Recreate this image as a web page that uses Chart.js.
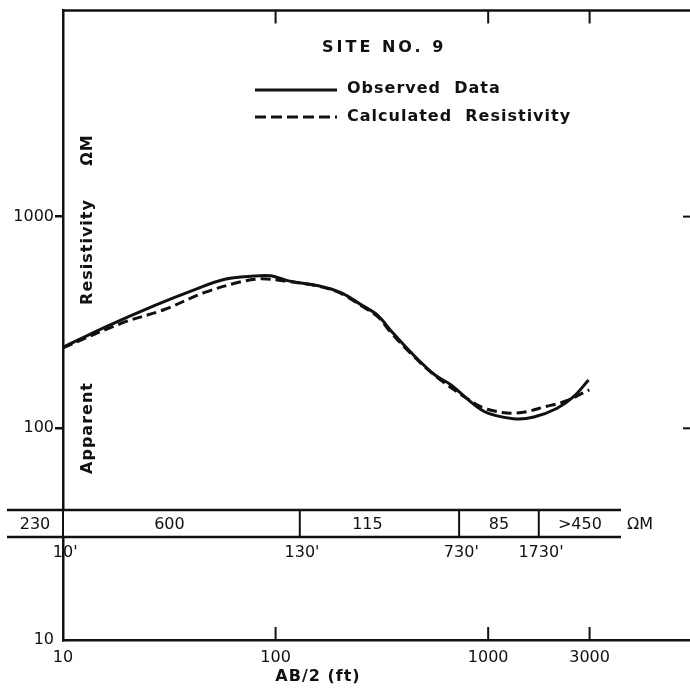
<!DOCTYPE html>
<html>
<head>
<meta charset="utf-8">
<script src="https://cdn.jsdelivr.net/npm/chart.js@4"></script>
<style>
  body { margin: 0; background: #fff; }
  #wrap { width: 690px; height: 688px; }
</style>
</head>
<body>
<div id="wrap"><canvas id="chart" width="690" height="688"></canvas></div>
<script>
// AB/2 spacing (ft) and apparent resistivity (ohm-m)
const observedAB = [10, 15.7, 26.9, 41.4, 57.1, 78.9, 95, 115, 159, 203, 252, 303, 348, 432, 560, 664, 958, 1322, 1641, 2100, 2523, 2966];
const observedRho = [241, 300, 380, 451, 505, 524, 525, 497, 471, 437, 384, 341, 290, 229, 179, 161, 120, 111, 113, 124, 141, 169];

const calculatedAB = [10, 18.9, 30, 46, 68.6, 85, 110, 159, 203, 252, 303, 348, 432, 560, 798, 990, 1367, 1888, 2340, 2990];
const calculatedRho = [240, 314, 364, 437, 492, 508, 497, 469, 434, 380, 336, 284, 226, 178, 138, 123, 118, 127, 135, 152];

const xTicks = [10, 100, 1000, 3000];
const yTicks = [10, 100, 1000];

// layered earth model shown under the curve
const layerDepths = [10, 130, 730, 1730];
const layerRes = ['230', '600', '115', '85', '>450'];

const FONT = "'DejaVu Sans', sans-serif";
const INK = '#111';

function toPoints(xs, ys) {
  return xs.map((v, i) => ({ x: v, y: ys[i] }));
}

const sheetPlugin = {
  id: 'sheet',
  afterDraw(chart) {
    const ctx = chart.ctx;
    const xs = chart.scales.x;
    const ys = chart.scales.y;
    const a = chart.chartArea;
    ctx.save();
    ctx.strokeStyle = INK;
    ctx.fillStyle = INK;
    ctx.lineWidth = 2.5;
    ctx.lineCap = 'butt';

    // top frame line
    ctx.beginPath();
    ctx.moveTo(a.left - 1, a.top);
    ctx.lineTo(a.right, a.top);
    ctx.stroke();

    // inward ticks on top and bottom
    ctx.lineWidth = 2;
    [100, 1000, 3000].forEach(v => {
      const px = xs.getPixelForValue(v);
      ctx.beginPath();
      ctx.moveTo(px, a.top);
      ctx.lineTo(px, a.top + 13);
      ctx.moveTo(px, a.bottom);
      ctx.lineTo(px, a.bottom - 13);
      ctx.stroke();
    });
    // ticks on the right edge
    [100, 1000].forEach(v => {
      const py = ys.getPixelForValue(v);
      ctx.beginPath();
      ctx.moveTo(a.right - 7, py);
      ctx.lineTo(a.right, py);
      ctx.stroke();
    });

    // vertical axis title, broken into pieces
    ctx.font = 'bold 16px ' + FONT;
    ctx.letterSpacing = '1px';
    ctx.textAlign = 'center';
    ctx.textBaseline = 'middle';
    [['Apparent', 428], ['Resistivity', 252], ['\u03A9M', 150]].forEach(([t, cy]) => {
      ctx.save();
      ctx.translate(88, cy);
      ctx.rotate(-Math.PI / 2);
      ctx.fillText(t, 0, 0);
      ctx.restore();
    });

    // x axis title
    ctx.font = 'bold 16px ' + FONT;
    ctx.fillText('AB/2 (ft)', 318, 677);

    // title and legend
    ctx.textAlign = 'left';
    ctx.letterSpacing = '3px';
    ctx.fillText('SITE NO. 9', 322, 48);
    ctx.letterSpacing = '1px';
    ctx.fillText('Observed  Data', 347, 89);
    ctx.fillText('Calculated  Resistivity', 347, 117);
    ctx.lineWidth = 3;
    ctx.beginPath();
    ctx.moveTo(255, 90);
    ctx.lineTo(337, 90);
    ctx.stroke();
    ctx.setLineDash([11, 5]);
    ctx.beginPath();
    ctx.moveTo(255, 117);
    ctx.lineTo(337, 117);
    ctx.stroke();
    ctx.setLineDash([]);

    // layer band
    const top = 510, bot = 537, left = 7, right = 621;
    ctx.fillStyle = '#fff';
    ctx.fillRect(left, top, right - left, bot - top);
    ctx.fillStyle = INK;
    ctx.lineWidth = 2.5;
    ctx.beginPath();
    ctx.moveTo(left, top);
    ctx.lineTo(right, top);
    ctx.moveTo(left, bot);
    ctx.lineTo(right, bot);
    ctx.stroke();
    const edges = [left].concat(layerDepths.map(d => xs.getPixelForValue(d)), [right]);
    ctx.lineWidth = 2;
    layerDepths.forEach(d => {
      const px = xs.getPixelForValue(d);
      ctx.beginPath();
      ctx.moveTo(px, top);
      ctx.lineTo(px, bot);
      ctx.stroke();
    });
    ctx.font = '16px ' + FONT;
    ctx.letterSpacing = '0px';
    ctx.textAlign = 'center';
    layerRes.forEach((r, i) => {
      ctx.fillText(r, (edges[i] + edges[i + 1]) / 2 - (i > 0 && i < 3 ? 12 : 0), (top + bot) / 2 + 1);
    });
    ctx.textAlign = 'left';
    ctx.fillText('\u03A9M', right + 6, (top + bot) / 2 + 1);
    layerDepths.forEach(d => {
      const px = xs.getPixelForValue(d);
      const w = ctx.measureText(String(d)).width;
      ctx.fillText(d + "'", px - w / 2, 553);
    });
    ctx.restore();
  }
};

new Chart(document.getElementById('chart'), {
  type: 'line',
  data: {
    datasets: [
      {
        label: 'Observed Data',
        data: toPoints(observedAB, observedRho),
        borderColor: INK,
        borderWidth: 3,
        pointRadius: 0,
        tension: 0.35,
        fill: false
      },
      {
        label: 'Calculated Resistivity',
        data: toPoints(calculatedAB, calculatedRho),
        borderColor: INK,
        borderWidth: 3,
        borderDash: [10, 5],
        pointRadius: 0,
        tension: 0.35,
        fill: false
      }
    ]
  },
  options: {
    responsive: false,
    animation: false,
    layout: { padding: { top: 5, right: 0, left: 0, bottom: 0 } },
    plugins: {
      legend: { display: false },
      tooltip: { enabled: false }
    },
    scales: {
      x: {
        type: 'logarithmic',
        min: 10,
        max: 8900,
        afterBuildTicks: s => { s.ticks = xTicks.map(v => ({ value: v })); },
        afterFit: s => { s.height = 48; },
        ticks: {
          autoSkip: false,
          maxRotation: 0,
          padding: 8,
          color: INK,
          font: { family: FONT, size: 16 },
          callback: v => String(v)
        },
        grid: { display: true, drawOnChartArea: false, drawTicks: false },
        border: { display: true, color: INK, width: 2.5 }
      },
      y: {
        type: 'logarithmic',
        min: 10,
        max: 9400,
        afterBuildTicks: s => { s.ticks = yTicks.map(v => ({ value: v })); },
        afterFit: s => { s.width = 63; },
        ticks: {
          autoSkip: false,
          padding: 1,
          color: INK,
          font: { family: FONT, size: 16 },
          callback: v => String(v)
        },
        grid: {
          drawOnChartArea: false,
          drawTicks: true,
          tickLength: 8,
          lineWidth: 2.5,
          color: ctx => (ctx.tick && ctx.tick.value === 10 ? 'rgba(0,0,0,0)' : INK)
        },
        border: { display: true, color: INK, width: 2.5 }
      }
    }
  },
  plugins: [sheetPlugin]
});
</script>
</body>
</html>
